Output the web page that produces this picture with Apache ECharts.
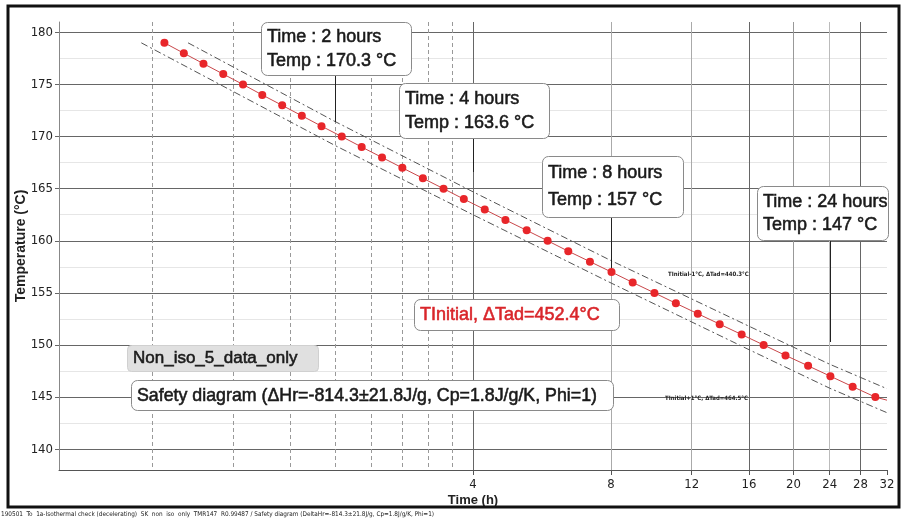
<!DOCTYPE html>
<html><head><meta charset="utf-8">
<script src="https://cdn.jsdelivr.net/npm/echarts@6/dist/echarts.min.js"></script>
<style>html,body{margin:0;padding:0;background:#fff}#c{width:902px;height:519px}</style>
</head><body><div id="c"></div><script>
// ---- data ----
const timesH = [0.849,0.936,1.033,1.141,1.260,1.388,1.534,1.693,1.869,2.069,2.287,2.533,2.805,3.110,3.450,3.820,4.243,4.708,5.238,5.819,6.455,7.197,8.020,8.92,9.95,11.08,12.37,13.81,15.42,17.22,19.22,21.53,24.08,26.93,30.18];
const tempsC = [179,178,177,176,175,174,173,172,171,170,169,168,167,166,165,164,163,162,161,160,159,158,157,156,155,154,153,152,151,150,149,148,147,146,145];
const lineEnd = [32,144.7];
const upperTimes = [0.956,2,4,8,16,24,32];
const upperTemps = [179,171.45,164.7,158.1,151.8,148.15,145.8];
const lowerTimes = [0.756,2,4,8,16,24,32];
const lowerTemps = [179,169.15,162.5,155.95,149.55,145.85,143.5];
const xLabelTicks = [4,8,12,16,20,24,28,32];
const xMinorGrid = [0.8,1.2,1.6,2.0,2.4,2.8,3.2,3.6];
const yTicks = [140,145,150,155,160,165,170,175,180];
const yMinor = [142.5,147.5,152.5,157.5,162.5,167.5,172.5,177.5];
const annoTimes = [2,4,8,24];
const annoTemps = [170.3,163.6,157,147];

const SANS = '"Liberation Sans", Arial, sans-serif';
const NARROW = '"Liberation Sans Narrow", "Arial Narrow", "DejaVu Sans Condensed", sans-serif';

const chart = echarts.init(document.getElementById('c'), null, {renderer:'canvas'});
const pairs = (xs, ys) => xs.map((x,i)=>[x, ys[i]]);
const redData = pairs(timesH, tempsC);
redData.push({value: lineEnd, symbol: 'none'});

chart.setOption({
  animation: false,
  backgroundColor: '#fff',
  grid: {left: 59, right: 15, top: 22, bottom: 49, containLabel: false},
  xAxis: [{
    type: 'log', logBase: 2, min: 0.5, max: 32,
    axisLine: {show: true, lineStyle: {color: '#555', width: 1}},
    axisTick: {show: true, length: 5, customValues: xLabelTicks, lineStyle: {color: '#555'}},
    axisLabel: {customValues: xLabelTicks, color: '#222', fontFamily: NARROW, fontSize: 13, margin: 8},
    splitLine: {show: true, lineStyle: {color: ['#666','#aaa','#aaa','#666','#999','#bbb','#666','rgba(0,0,0,0)'], width: 1}},
    minorTick: {show: false}
  },{
    type: 'log', logBase: 2, min: 0.5, max: 32, position: 'bottom',
    axisLine: {show: false}, axisLabel: {show: false},
    axisTick: {show: false, customValues: xMinorGrid},
    splitLine: {show: true, lineStyle: {color: '#999', width: 1, type: [4,3]}}
  }],
  yAxis: [{
    type: 'value', min: 138, max: 181,
    name: 'Temperature (°C)', nameLocation: 'middle', nameGap: 31, nameMoveOverlap: false,
    nameTextStyle: {fontFamily: SANS, fontSize: 14, fontWeight: 'bold', color: '#222'},
    axisLine: {show: true, lineStyle: {color: '#888'}},
    axisTick: {show: true, length: 4, customValues: yTicks, lineStyle: {color: '#666'}},
    axisLabel: {customValues: yTicks, color: '#222', fontFamily: NARROW, fontSize: 13, margin: 6},
    splitLine: {show: true, lineStyle: {color: '#666', width: 1}}
  },{
    type: 'value', min: 138, max: 181, position: 'left',
    axisLine: {show: false}, axisLabel: {show: false},
    axisTick: {show: false, customValues: yMinor},
    splitLine: {show: true, lineStyle: {color: '#e6e6e6', width: 1}}
  }],
  series: [
    {type:'line', name:'upper', xAxisIndex:0, yAxisIndex:0, data: pairs(upperTimes, upperTemps), symbol:'none', silent:true, z:2,
     lineStyle:{color:'#555', width:1, type:[7,3,2,3]}},
    {type:'line', name:'lower', xAxisIndex:0, yAxisIndex:0, data: pairs(lowerTimes, lowerTemps), symbol:'none', silent:true, z:2,
     lineStyle:{color:'#555', width:1, type:[7,3,2,3]}},
    {type:'line', name:'TInitial', xAxisIndex:0, yAxisIndex:0, data: redData, symbol:'circle', symbolSize:8, showSymbol:true, z:4,
     itemStyle:{color:'#e8262a'}, lineStyle:{color:'#c9474a', width:1}}
  ]
});

// ---- annotations (layout in pixels, anchored to axis values) ----
const boxes = [
  {left:261, top:22, w:150, h:53, l1:15, l2:39, end:122},
  {left:399, top:83, w:150, h:55, l1:16, l2:40, end:172},
  {left:542, top:156, w:141, h:61, l1:17, l2:44, end:268},
  {left:757, top:186, w:131, h:54, l1:16, l2:39, end:342}
];
const TXT = (x, y, text, size, color) => ({type:'text', z:61, style:{x, y, text, font: size+'px '+SANS, fill: color, stroke: color, lineWidth: 0.55, verticalAlign:'middle'}});
const g = [];
annoTimes.forEach((t,i)=>{
  const b = boxes[i];
  const px = Math.round(chart.convertToPixel({xAxisIndex:0}, t)) + 0.5;
  g.push({type:'line', z:50, shape:{x1:px, y1:b.top+b.h, x2:px, y2:b.end}, style:{stroke:'#222', lineWidth:1}});
  g.push({type:'rect', z:60, shape:{x:b.left+0.5, y:b.top+0.5, width:b.w, height:b.h, r:6}, style:{fill:'#fff', stroke:'#8a8a8a', lineWidth:1}});
  g.push(TXT(b.left+6, b.top+b.l1, 'Time : '+t+' hours', 18, '#1a1a1a'));
  g.push(TXT(b.left+6, b.top+b.l2, 'Temp : '+annoTemps[i]+' °C', 18, '#1a1a1a'));
});
// TInitial label
g.push({type:'rect', z:60, shape:{x:414.5, y:299.5, width:205, height:31, r:6}, style:{fill:'#fff', stroke:'#8a8a8a', lineWidth:1}});
g.push(TXT(420, 315, 'TInitial, ΔTad=452.4°C', 18, '#d9252a'));
// Non_iso label
g.push({type:'rect', z:60, shape:{x:127.5, y:345.5, width:191, height:26, r:4}, style:{fill:'#e0e0e0', stroke:'#d0d0d0', lineWidth:1}});
g.push(TXT(133, 358.5, 'Non_iso_5_data_only', 17, '#1a1a1a'));
// Safety diagram
g.push({type:'rect', z:60, shape:{x:131.5, y:380.5, width:482, height:30, r:6}, style:{fill:'#fff', stroke:'#8a8a8a', lineWidth:1}});
g.push(TXT(137, 396, 'Safety diagram (ΔHr=-814.3±21.8J/g, Cp=1.8J/g/K, Phi=1)', 17.8, '#1a1a1a'));
// envelope labels
g.push({type:'text', z:61, style:{x:668, y:274, text:'TInitial-1°C, ΔTad=440.3°C', font:'bold 6px '+NARROW, fill:'#222', verticalAlign:'middle'}});
g.push({type:'text', z:61, style:{x:665, y:398, text:'TInitial+1°C, ΔTad=464.5°C', font:'bold 6px '+NARROW, fill:'#222', verticalAlign:'middle'}});
// x axis name under the "4" label
const x4 = chart.convertToPixel({xAxisIndex:0}, 4);
g.push({type:'text', z:61, style:{x:x4, y:500, text:'Time (h)', font:'bold 13px '+SANS, fill:'#222', align:'center', verticalAlign:'middle'}});
// outer frame
g.push({type:'rect', z:70, shape:{x:8, y:6, width:891, height:501}, style:{fill:'none', stroke:'#111', lineWidth:3}});
// footer
g.push({type:'text', z:61, style:{x:1, y:514, text:'190501  To  1a-Isothermal check (decelerating)  SK  non  iso  only  TMR147  R0.99487 / Safety diagram (DeltaHr=-814.3±21.8J/g, Cp=1.8J/g/K, Phi=1)', font:'6.4px '+NARROW, fill:'#222', verticalAlign:'middle'}});
chart.setOption({graphic: g});
</script></body></html>
